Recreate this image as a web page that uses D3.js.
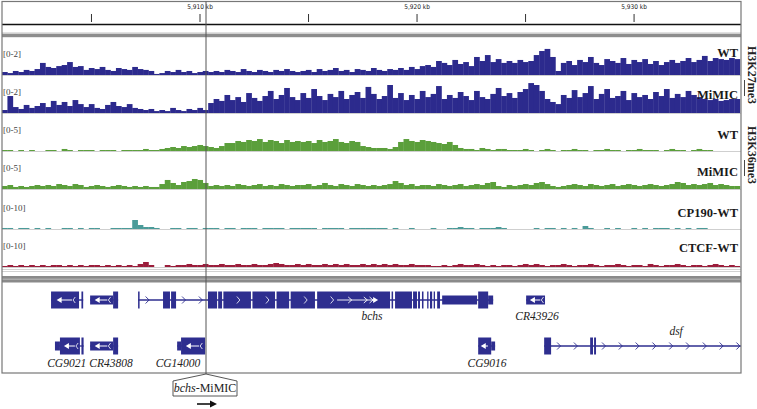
<!DOCTYPE html>
<html><head><meta charset="utf-8">
<script src="https://cdn.jsdelivr.net/npm/d3@7"></script>
<style>body{margin:0;background:#fff}svg{display:block}</style>
</head><body><svg id="c" width="757" height="409"></svg>
<script>
// ---------- data ----------
const regionStart = 5900.9, regionEnd = 5934.95, binSize = 0.25;
const rulerTicks = [5905, 5910, 5915, 5920, 5925, 5930];
const rulerLabelTicks = [5910, 5920, 5930];
const trackNames = ["WT", "MiMIC", "WT", "MiMIC", "CP190-WT", "CTCF-WT"];
const trackRanges = [2, 2, 5, 5, 10, 10];
const groupNames = ["H3K27me3", "H3K36me3"];
const mimicPos = 5910.3;

const h3k27WT = [.17,.11,.23,.17,.29,.23,.34,
.69,.46,.4,.51,.57,.74,.46,.51,
.29,.4,.34,.46,.29,.23,.4,.34,.29,.46,.34,.29,.23,
.06,.11,
.23,.17,.29,.17,.23,.11,.17,.23,
.17,.23,.17,.29,.23,.17,.34,.23,.17,.29,.23,.17,.29,.23,.34,.23,.17,
.23,.29,.17,.34,.23,.29,.4,.23,.29,.17,.34,.29,.23,.4,.29,
.23,.34,.29,.4,.29,.46,.34,.51,
.57,.46,.8,.69,.57,.86,.63,.74,.51,
1.03,.8,1.14,.74,.91,.69,.8,
.69,.86,.74,.8,1.14,1.37,1.49,1.03,
.23,.69,.8,.57,.86,.74,1.03,.69,
.57,.91,.8,.69,.97,.63,.86,.74,.91,
.63,.8,.57,.74,.86,.69,.8,.97,.74,
.86,1.09,.8,.97,.91,.86,.97,.91];

const h3k27MiMIC = [.17,.97,.34,.23,.46,.29,.4,
.57,.34,.69,.46,.63,.4,.74,.51,
.34,.51,.29,.23,.46,.63,.4,.34,.51,.29,.23,.17,.23,
.11,.17,.11,.29,.17,.11,.23,.17,.29,.17,
.57,.8,.69,1.03,.74,.91,.63,1.14,.86,.69,.97,1.26,.8,1.03,1.43,.91,.74,
1.14,.86,1.37,.97,.74,1.09,.91,1.26,.8,1.03,1.2,.86,1.49,1.09,.8,
.97,1.6,.86,1.14,.74,1.03,.8,1.26,
.91,1.09,1.54,.8,1.03,.86,1.2,.97,.74,
1.26,.91,.8,1.09,1.43,.97,1.14,
.86,1.2,1.37,1.71,1.6,1.26,.8,.63,
.51,1.03,.86,1.31,.91,1.14,1.54,.8,
1.09,1.37,.86,.97,1.26,.74,1.14,.91,1.03,
.8,1.2,.97,1.37,.86,1.09,.91,1.26,1.03,
.91,.8,.74,.8,.69,.74,.8,.8];

const h3k36WT = [.14,.14,0,.14,0,.14,0,
0,.14,.14,0,.29,.14,0,.14,
.14,.14,0,.14,.14,.14,0,.14,.14,.14,.14,.29,.14,
.14,.29,.43,.57,.43,.71,.57,.71,.86,.71,
.57,.43,.71,1.14,1.14,1.43,1.29,1.57,1.43,1.71,1.29,1.57,1.43,1.14,1.57,1.29,1.43,
1.29,1.43,1.14,1.57,1.29,1.43,1.71,1.29,1.14,1.43,1.29,.71,.57,.43,.43,
.43,.29,.57,1.29,1.71,1.43,1.29,1.57,
1.43,1.29,1.14,1.0,1.29,.86,.43,.29,.29,
.14,.43,.29,.14,.29,.29,.14,
.14,.14,.29,.14,0,.14,.29,.14,
0,.14,.14,.29,.14,.14,0,.14,
.14,.29,.14,.14,0,.14,.14,.29,.14,
.14,.14,0,.14,.29,.14,.14,0,.14,
.29,.14,.14,0,0,0,0,0];

const h3k36MiMIC = [.43,.57,.29,.43,.29,.43,.57,
.43,.57,.43,.71,.57,.43,.71,.57,
.29,.43,.57,.43,.29,.43,.57,.43,.29,.43,.29,.43,.29,
.29,.71,1.29,.86,.57,1.0,1.14,1.43,1.29,.86,
.43,.57,.43,.57,.43,.71,.57,.43,.57,.71,.43,.57,.43,.71,.57,.43,.57,
.57,.71,.43,.57,.86,.57,.43,.71,.57,.43,.71,.57,.43,.57,.43,
.57,.71,1.14,.86,.57,.71,.43,.57,
.57,.43,.71,.57,.43,.57,.71,.43,.57,
.71,.57,.86,1.0,.43,.29,.57,
.43,.57,.71,.57,.86,1.0,.71,.43,
.29,.43,.57,.71,.57,.43,.71,.57,
.43,.57,.71,.43,.57,.71,.57,.43,.57,
.71,.57,.43,.57,.71,1.0,.86,.57,.71,
.57,.71,.86,.57,.71,.57,.43,.43];

const cp190WT = [.29,.29,0,.29,.29,0,.29,
0,.29,0,0,.29,.29,0,.29,
0,.29,.29,0,0,.29,.29,.29,.29,2.57,1.14,.57,.57,
.29,0,0,.29,.29,0,.29,.29,0,.29,
.29,.29,0,.29,.29,0,.29,.29,.29,0,.29,.29,.29,.29,0,.29,.29,
.29,.29,.29,0,.29,.29,.29,.29,0,.29,.29,.29,.29,.29,.29,
.29,0,.29,0,0,.29,0,0,
0,.29,0,0,.29,.29,.57,.29,.29,
0,.29,.29,.29,.57,.29,0,
0,0,0,0,.29,0,.29,.29,
0,.29,0,.29,0,.86,.29,0,
0,.29,0,.29,0,0,.29,0,.29,
0,.29,.29,.29,0,.29,0,.29,0,
.29,.29,0,0,0,0,0,0];

const ctcfWT = [.29,.57,.29,.57,.29,.57,.29,
.57,.29,.57,.57,.29,.57,.29,.57,
.29,.57,.57,.29,.57,.29,.57,.29,.57,.29,.86,1.43,.57,
0,0,.57,.29,.57,.57,.86,.57,.57,.86,
.57,.57,.86,.57,.57,.86,.57,.57,.86,.57,.57,.86,1.14,.86,.57,.57,.86,
.57,.86,.57,.57,.86,.57,.86,.57,.86,.57,.57,.86,.57,.86,.57,
.86,.57,.86,.57,.57,.86,.57,.57,
.57,.29,.29,.57,.29,.57,.86,.57,.57,
.86,.57,.29,.57,.29,.57,.57,
.29,.57,.86,.57,.86,.57,.29,.57,
.57,.86,.57,.29,.57,.57,.86,.57,
.29,.57,.57,.86,.57,.29,.57,.57,.29,
.86,.57,.29,.57,.57,.86,.57,.29,.57,
.57,.29,.57,.86,.57,.29,.57,.29];

const trackData = [h3k27WT, h3k27MiMIC, h3k36WT, h3k36MiMIC, cp190WT, ctcfWT];

// gene models (kb); exon type c = coding, u = UTR / non-coding
const genes = [
  {name:"CG9021", row:0, strand:"-", start:5903.16, end:5904.64,
   exons:[[5903.16,5904.45,"c"],[5904.56,5904.64,"c"]], label:null},
  {name:"CR43808", row:0, strand:"-", start:5904.96, end:5906.25,
   exons:[[5904.96,5906.02,"u"],[5906.02,5906.25,"c"]], label:null},
  {name:"bchs", row:0, strand:"+", start:5907.17, end:5923.53,
   exons:[[5907.17,5907.24,"c"],[5908.32,5908.64,"c"],[5908.69,5908.92,"c"],
          [5910.39,5910.81,"c"],[5910.86,5911.04,"c"],[5911.10,5912.37,"c"],
          [5912.44,5913.48,"c"],[5913.55,5914.13,"c"],[5914.20,5915.32,"c"],
          [5915.42,5918.78,"c"],[5918.85,5918.92,"c"],[5919.01,5919.79,"c"],
          [5919.84,5920.02,"c"],[5920.07,5920.16,"c"],[5920.25,5920.32,"c"],
          [5920.49,5920.55,"c"],[5920.62,5920.72,"c"],[5920.79,5920.85,"c"],
          [5920.95,5921.08,"c"],[5921.18,5922.79,"u"],[5922.84,5923.30,"c"],
          [5923.30,5923.53,"u"]],
   inner:[5916.34,5918.23], label:5917.95, labelPos:"below"},
  {name:"CR43926", row:0, strand:"-", start:5925.05, end:5925.92,
   exons:[[5925.05,5925.92,"u"]], label:5925.55, labelPos:"below"},
  {name:"CG9021", row:1, strand:"-", start:5903.34, end:5904.66,
   exons:[[5903.34,5903.57,"u"],[5903.57,5904.49,"c"],[5904.56,5904.66,"c"]], label:5903.88, labelPos:"below"},
  {name:"CR43808", row:1, strand:"-", start:5904.96, end:5906.25,
   exons:[[5904.96,5906.02,"u"],[5906.02,5906.25,"c"]], label:5905.92, labelPos:"below"},
  {name:"CG14000", row:1, strand:"-", start:5908.97, end:5910.26,
   exons:[[5908.97,5909.15,"u"],[5909.15,5910.26,"c"]], label:5909.01, labelPos:"below"},
  {name:"CG9016", row:1, strand:"-", start:5922.84, end:5923.62,
   exons:[[5922.84,5923.44,"c"],[5923.44,5923.62,"u"]], label:5923.25, labelPos:"below"},
  {name:"dsf", row:1, strand:"+", start:5925.88, end:5936.0,
   exons:[[5925.88,5926.20,"c"],[5928.00,5928.13,"c"],[5928.18,5928.27,"c"]], label:5931.96, labelPos:"above"}
];

// ---------- layout / style ----------
const W = 757, H = 409;
const L = 2, R = 741, frameTop = 1.5, frameBottom = 373;
const baselines = [75, 113, 151, 189, 229, 267];
const labelLift = [18, 14, 12, 13, 12, 15];
const trackH = 35;
const colors = ["#2c2a8d", "#2c2a8d", "#5b9f3b", "#5b9f3b", "#4b9b99", "#9b1d3b"];
const groupCenters = [75, 155];
const geneColor = "#2e2e8f";
const rowY = [300, 346];
const halfH = {c: 8.5, u: 4.5};
const serif = "'Liberation Serif','Times New Roman',serif";

const svg = d3.select("#c");
svg.append("rect").attr("width", W).attr("height", H).attr("fill", "#fff");

const x = d3.scaleLinear().domain([regionStart, regionEnd]).range([L, R]);

const clip = svg.append("defs").append("clipPath").attr("id", "clipMain");
clip.append("rect").attr("x", L).attr("y", 0).attr("width", R - L).attr("height", frameBottom);

// ---------- ruler ----------
const axis = d3.axisTop(x).tickValues(rulerTicks).tickSize(8).tickPadding(5)
  .tickFormat(d => rulerLabelTicks.includes(d) ? d3.format(",")(d) + " kb" : "");
const ag = svg.append("g").attr("transform", "translate(0,22)").call(axis);
ag.select(".domain").remove();
ag.selectAll(".tick line").attr("stroke", "#333");
ag.selectAll(".tick text").attr("font-family", "'DejaVu Sans Condensed','Liberation Sans',sans-serif")
  .attr("font-size", 6.5).attr("fill", "#222").attr("font-stretch", "condensed");
svg.append("line").attr("x1", L).attr("x2", R).attr("y1", 24.5).attr("y2", 24.5)
  .attr("stroke", "#111").attr("stroke-width", 1.5);

svg.append("rect").attr("x", L).attr("width", R - L).attr("y", 32.5).attr("height", 1).attr("fill", "#c4c4c4");
svg.append("rect").attr("x", L).attr("width", R - L).attr("y", 33.8).attr("height", 3.4).attr("fill", "#8d8d8d");

// ---------- signal tracks ----------
const main = svg.append("g").attr("clip-path", "url(#clipMain)");
trackData.forEach((vals, t) => {
  const base = baselines[t];
  const y = d3.scaleLinear().domain([0, trackRanges[t]]).range([base, base - trackH]);
  main.append("line").attr("x1", L).attr("x2", R).attr("y1", base + 0.5).attr("y2", base + 0.5)
    .attr("stroke", "#cfcfcf").attr("stroke-width", 1);
  main.append("g").selectAll("rect").data(vals).join("rect")
    .attr("x", (d, i) => x(regionStart + i * binSize))
    .attr("width", (d, i) => x(regionStart + (i + 1) * binSize) - x(regionStart + i * binSize) + 0.3)
    .attr("y", d => y(d))
    .attr("height", d => base - y(d))
    .attr("fill", colors[t]);
  svg.append("text").attr("x", 3).attr("y", base - 18)
    .attr("font-family", serif).attr("font-size", 9).attr("fill", "#444")
    .text(`[0-${trackRanges[t]}]`);
  svg.append("text").attr("x", 738).attr("y", base - labelLift[t]).attr("text-anchor", "end")
    .attr("font-family", serif).attr("font-weight", "bold").attr("font-size", 12.5).attr("fill", "#1a1a1a")
    .text(trackNames[t]);
});

svg.append("line").attr("x1", L).attr("x2", R).attr("y1", 269.5).attr("y2", 269.5).attr("stroke", "#d2d2d2");
svg.append("line").attr("x1", L).attr("x2", R).attr("y1", 271.5).attr("y2", 271.5).attr("stroke", "#d2d2d2");
svg.append("rect").attr("x", L).attr("width", R - L).attr("y", 276).attr("height", 6.5).attr("fill", "#8a8a8a");
svg.append("rect").attr("x", L).attr("width", R - L).attr("y", 278.6).attr("height", 1.2).attr("fill", "#b4b4b4");

// ---------- genes ----------
const gg = svg.append("g").attr("clip-path", "url(#clipMain)");
genes.forEach(g => {
  const cy = rowY[g.row];
  const g0 = gg.append("g");
  g0.append("line").attr("x1", x(g.start)).attr("x2", x(g.end)).attr("y1", cy).attr("y2", cy)
    .attr("stroke", geneColor).attr("stroke-width", 1.3);
  const ex = g.exons;
  const gaps = [];
  for (let i = 0; i < ex.length - 1; i++) gaps.push([ex[i][1], ex[i + 1][0]]);
  if (x(g.end) - x(ex[ex.length - 1][1]) > 5) gaps.push([ex[ex.length - 1][1], g.end]);
  const dir = g.strand === "+" ? 1 : -1;
  gaps.forEach(([a, b]) => {
    const xa = x(a), xb = x(b);
    if (xb - xa < 12) return;
    for (let px = xa + 8; px < xb - 3; px += 16.8) {
      g0.append("path").attr("d", `M${px - 2 * dir},${cy - 3.5}L${px + 1.5 * dir},${cy}L${px - 2 * dir},${cy + 3.5}`)
        .attr("fill", "none").attr("stroke", geneColor).attr("stroke-width", 0.9);
    }
  });
  g0.selectAll("rect.ex").data(ex).join("rect")
    .attr("x", d => x(d[0])).attr("width", d => Math.max(1.2, x(d[1]) - x(d[0])))
    .attr("y", d => cy - halfH[d[2]]).attr("height", d => 2 * halfH[d[2]])
    .attr("fill", geneColor);
  if (g.strand === "+") {
    ex.forEach(d => {
      const xa = x(d[0]), xb = x(d[1]);
      if (d[2] !== "c" || xb - xa < 20) return;
      for (let px = xa + 15; px < xb - 4; px += 30) {
        if (g.inner && px > x(g.inner[0]) - 4 && px < x(g.inner[1]) + 4) continue;
        g0.append("path").attr("d", `M${px - 1.5},${cy - 3.5}L${px + 1.5},${cy}L${px - 1.5},${cy + 3.5}`)
          .attr("fill", "none").attr("stroke", "#fff").attr("stroke-width", 0.8);
      }
    });
    if (g.inner) {
      const xa = x(g.inner[0]), xb = x(g.inner[1]);
      g0.append("line").attr("x1", xa).attr("x2", xb - 3).attr("y1", cy).attr("y2", cy)
        .attr("stroke", "#fff").attr("stroke-width", 0.9);
      [0.32, 0.7, 0.84].forEach(f => {
        const px = xa + f * (xb - xa);
        g0.append("path").attr("d", `M${px - 2},${cy - 3}L${px + 1.5},${cy}L${px - 2},${cy + 3}`)
          .attr("fill", "none").attr("stroke", "#fff").attr("stroke-width", 0.9);
      });
      g0.append("path").attr("d", `M${xb - 5},${cy - 3}L${xb},${cy}L${xb - 5},${cy + 3}Z`).attr("fill", "#fff");
    }
  } else {
    const mainEx = ex.filter(d => d[2] === "c").sort((a, b) => (b[1] - b[0]) - (a[1] - a[0]))[0] || ex[0];
    const useEx = (mainEx[1] - mainEx[0]) < 0.4 ? ex[0] : mainEx;
    const xa = x(useEx[0]), xb = x(useEx[1]);
    const w = xb - xa;
    const a1 = xa + Math.min(6, w * 0.2), a2 = xb - Math.min(7, w * 0.25);
    g0.append("line").attr("x1", a1 + 3).attr("x2", a2).attr("y1", cy).attr("y2", cy)
      .attr("stroke", "#fff").attr("stroke-width", 1);
    g0.append("path").attr("d", `M${a1},${cy}L${a1 + 5},${cy - 3}L${a1 + 5},${cy + 3}Z`).attr("fill", "#fff");
    if (w > 15) {
      const px = a2 + 2;
      g0.append("path").attr("d", `M${px + 1.2},${cy - 3}L${px - 1},${cy}L${px + 1.2},${cy + 3}`)
        .attr("fill", "none").attr("stroke", "#fff").attr("stroke-width", 0.8);
    }
  }
  if (g.label !== null) {
    const ly = g.labelPos === "above" ? cy - 11 : (g.row === 0 ? cy + 20 : cy + 21);
    gg.append("text").attr("x", x(g.label)).attr("y", ly).attr("text-anchor", "middle")
      .attr("font-family", serif).attr("font-style", "italic").attr("font-size", 11.5)
      .attr("fill", "#222").text(g.name);
  }
});

// ---------- frame ----------
svg.append("rect").attr("x", L).attr("y", frameTop).attr("width", R - L).attr("height", frameBottom - frameTop)
  .attr("fill", "none").attr("stroke", "#777").attr("stroke-width", 1.2);

groupNames.forEach((n, i) => {
  svg.append("text").attr("transform", `translate(747.5,${groupCenters[i]}) rotate(90)`)
    .attr("text-anchor", "middle").attr("font-family", serif).attr("font-weight", "bold")
    .attr("font-size", 12).attr("fill", "#222").text(n);
  svg.append("line").attr("x1", 744.5).attr("x2", 744.5)
    .attr("y1", groupCenters[i] + 5).attr("y2", groupCenters[i] + 21)
    .attr("stroke", "#333").attr("stroke-width", 0.9);
});

// ---------- MiMIC insertion ----------
const mx = x(mimicPos);
svg.append("line").attr("x1", mx).attr("x2", mx).attr("y1", frameTop).attr("y2", 374)
  .attr("stroke", "#555").attr("stroke-width", 1);
svg.append("path")
  .attr("d", `M${mx},374L${mx + 31},381L${mx + 31},396L${mx - 33},396L${mx - 33},381Z`)
  .attr("fill", "#fff").attr("stroke", "#444").attr("stroke-width", 0.9);
const mt = svg.append("text").attr("x", mx - 1).attr("y", 392).attr("text-anchor", "middle")
  .attr("font-family", serif).attr("font-size", 12).attr("fill", "#222");
mt.append("tspan").attr("font-style", "italic").text("bchs");
mt.append("tspan").text("-MiMIC");
svg.append("line").attr("x1", mx - 9).attr("x2", mx + 6).attr("y1", 404).attr("y2", 404)
  .attr("stroke", "#111").attr("stroke-width", 1.6);
svg.append("path").attr("d", `M${mx + 11},404L${mx + 4},400.5L${mx + 4},407.5Z`).attr("fill", "#111");
</script>
</body></html>
